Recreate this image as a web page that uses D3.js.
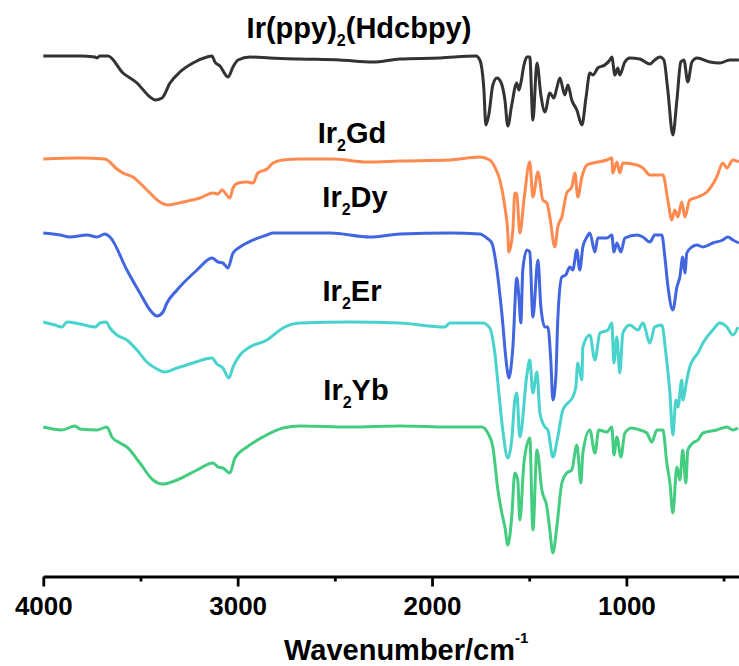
<!DOCTYPE html>
<html>
<head>
<meta charset="utf-8">
<script src="https://cdn.jsdelivr.net/npm/d3@7"></script>
<style>
  body { margin: 0; background: #fff; }
  text { font-family: "Liberation Sans", Arial, sans-serif; font-weight: bold; fill: #000; }
</style>
</head>
<body>
<div id="chart"></div>
<script>
// [wavenumber (cm-1), transmittance (a.u., stacked offset)]
const hdcbpy = [[4000,519],[3811,519],[3734,518],[3724,517],[3708,519],[3667,519],[3590,502],[3518,492],[3451,478],[3425,475],[3389,477],[3348,492],[3297,503],[3230,512],[3158,518],[3132,519],[3117,513],[3091,509],[3050,498],[3024,508],[2998,515],[2937,518],[2834,517],[2680,516],[2474,515],[2304,513],[2165,516],[1959,517],[1774,519],[1754,515],[1733,485],[1723,450],[1708,460],[1687,490],[1666,497],[1646,493],[1625,475],[1610,449],[1590,470],[1564,492],[1553,485],[1543,492],[1527,510],[1512,518],[1497,518],[1481,455],[1460,512],[1440,480],[1419,463],[1394,482],[1373,477],[1358,487],[1342,497],[1317,480],[1301,490],[1281,475],[1255,465],[1229,450],[1208,477],[1188,502],[1172,500],[1147,507],[1111,510],[1085,515],[1075,518],[1059,500],[1044,507],[1034,500],[1008,513],[982,517],[931,516],[879,511],[854,515],[828,518],[807,515],[787,485],[761,440],[740,475],[720,513],[704,515],[684,493],[663,513],[637,517],[570,513],[519,512],[468,515],[421,515]];

const gd = [[4000,416],[3811,417],[3683,416],[3621,406],[3590,402],[3539,398],[3467,385],[3400,373],[3359,370],[3281,373],[3194,377],[3127,382],[3101,381],[3081,385],[3040,377],[3024,387],[2998,392],[2952,393],[2921,392],[2896,402],[2849,406],[2818,412],[2767,415],[2680,416],[2510,416],[2335,413],[2165,414],[1908,415],[1754,418],[1703,415],[1677,408],[1651,395],[1625,368],[1610,342],[1605,323],[1584,345],[1574,382],[1564,381],[1548,342],[1527,375],[1497,413],[1481,378],[1455,403],[1430,375],[1409,372],[1394,358],[1368,328],[1353,348],[1332,358],[1307,382],[1281,388],[1265,402],[1250,378],[1229,398],[1203,410],[1172,412],[1100,415],[1075,417],[1070,402],[1049,413],[1034,402],[1018,412],[946,410],[915,407],[879,400],[812,400],[787,375],[766,355],[751,365],[735,358],[715,373],[699,358],[674,375],[632,378],[586,383],[535,398],[504,412],[483,407],[452,415],[421,413]];

const dy = [[4000,342],[3914,340],[3863,338],[3775,340],[3724,338],[3683,341],[3657,338],[3570,305],[3503,282],[3451,265],[3415,259],[3384,263],[3364,272],[3312,285],[3209,305],[3132,317],[3101,313],[3076,312],[3050,307],[3024,322],[2988,328],[2921,335],[2849,340],[2818,342],[2525,342],[2320,338],[2165,341],[1908,342],[1754,341],[1718,337],[1692,332],[1666,305],[1641,262],[1615,208],[1605,197],[1584,228],[1564,297],[1553,278],[1543,252],[1533,305],[1512,325],[1497,323],[1481,258],[1455,315],[1440,268],[1419,248],[1404,248],[1389,215],[1378,175],[1363,198],[1353,255],[1332,298],[1312,300],[1291,308],[1276,305],[1255,325],[1240,305],[1224,328],[1203,338],[1188,342],[1162,323],[1147,337],[1100,337],[1075,340],[1064,323],[1049,332],[1028,323],[1008,337],[946,340],[915,338],[879,333],[854,340],[818,340],[802,318],[787,290],[761,265],[740,288],[725,298],[710,318],[699,302],[689,322],[663,328],[637,330],[606,328],[555,332],[504,335],[478,338],[452,335],[421,332]];

const er = [[4000,253],[3940,250],[3904,248],[3878,253],[3811,251],[3734,248],[3708,252],[3677,253],[3657,247],[3621,240],[3570,235],[3518,225],[3467,213],[3415,206],[3374,203],[3312,207],[3230,212],[3132,217],[3107,211],[3076,207],[3045,197],[3024,208],[2988,220],[2937,228],[2849,235],[2767,247],[2680,252],[2423,253],[2165,252],[1934,248],[1908,252],[1739,252],[1703,247],[1677,222],[1656,182],[1636,145],[1610,117],[1590,135],[1574,175],[1564,182],[1548,138],[1512,200],[1497,215],[1481,182],[1460,203],[1445,162],[1419,148],[1404,145],[1378,118],[1353,138],[1327,165],[1301,172],[1276,178],[1260,188],[1250,212],[1229,195],[1224,228],[1188,240],[1162,215],[1136,242],[1095,245],[1075,252],[1064,212],[1049,238],[1034,202],[1018,242],[982,250],[941,245],[915,252],[879,232],[854,248],[818,250],[797,222],[776,182],[761,140],[745,175],[735,168],[715,195],[710,175],[689,195],[674,208],[658,215],[632,222],[606,232],[555,245],[519,252],[483,248],[452,240],[426,248]];

const yb = [[4000,148],[3904,145],[3837,149],[3811,146],[3724,145],[3673,148],[3647,138],[3605,132],[3570,128],[3503,112],[3436,95],[3384,91],[3312,95],[3209,105],[3127,112],[3101,108],[3076,107],[3040,102],[3014,117],[2952,128],[2870,138],[2767,147],[2680,149],[2423,148],[2165,149],[1908,148],[1743,148],[1713,142],[1687,128],[1661,85],[1641,62],[1625,48],[1610,30],[1590,58],[1574,102],[1559,95],[1548,55],[1527,112],[1497,137],[1481,45],[1460,125],[1435,85],[1409,68],[1394,45],[1378,22],[1358,48],[1332,92],[1307,102],[1281,105],[1255,130],[1234,92],[1224,122],[1188,145],[1162,122],[1142,145],[1100,143],[1075,148],[1064,120],[1049,138],[1028,118],[1008,142],[972,147],[931,145],[895,142],[869,133],[843,145],[812,145],[792,112],[776,92],[761,62],[740,108],[725,95],[710,125],[694,92],[684,125],[658,132],[632,135],[606,142],[535,145],[483,148],[452,145],[426,147]];

const majorTicks = [4000, 3000, 2000, 1000];
const minorTicks = [3500, 2500, 1500, 500];

const series = [
  {data: hdcbpy, color: "#333333", name: ["Ir(ppy)", "2", "(Hdcbpy)"], lx: 359, ly: 38},
  {data: gd, color: "#ff8a50", name: ["Ir", "2", "Gd"], lx: 352, ly: 143},
  {data: dy, color: "#4166e0", name: ["Ir", "2", "Dy"], lx: 355, ly: 207},
  {data: er, color: "#48d3cc", name: ["Ir", "2", "Er"], lx: 352, ly: 301},
  {data: yb, color: "#44cc80", name: ["Ir", "2", "Yb"], lx: 356, ly: 400}
];

let width = 739
let height = 666

let svg = d3.select("#chart")
  .append("svg")
  .attr("width", width)
  .attr("height", height)

let xScale = d3.scaleLinear()
  .domain([4000, 400])
  .range([43.3, 743])

let yScale = d3.scaleLinear()
  .domain([0, 520])
  .range([575, 55])

let line = d3.line()
  .x(d => xScale(d[0]))
  .y(d => yScale(d[1]))
  .curve(d3.curveMonotoneX)

series.forEach(function(s){
  svg.append("path")
    .datum(s.data)
    .attr("d", line)
    .attr("fill", "none")
    .attr("stroke", s.color)
    .attr("stroke-width", 3)
    .attr("stroke-linejoin", "round")

  let t = svg.append("text")
    .attr("x", s.lx)
    .attr("y", s.ly)
    .attr("text-anchor", "middle")
    .style("font-size", "29px")
  t.append("tspan").text(s.name[0])
  t.append("tspan").attr("dy", 8).style("font-size", "16px").text(s.name[1])
  t.append("tspan").attr("dy", -8).text(s.name[2])
})

// x axis
let axisY = 576.5

let xAxis = d3.axisBottom(xScale)
  .tickValues(majorTicks)
  .tickSize(10)
  .tickSizeOuter(0)
  .tickFormat(d3.format("d"))

let gx = svg.append("g")
  .attr("transform", `translate(0, ${axisY})`)
  .call(xAxis)

gx.select(".domain").attr("stroke", "#000").attr("stroke-width", 2.8)
gx.selectAll(".tick line").attr("stroke", "#000").attr("stroke-width", 2.8)
gx.selectAll(".tick text")
  .attr("y", 38)
  .attr("dy", 0)
  .style("font-size", "26px")
  .style("font-family", "'Liberation Sans', Arial, sans-serif")
  .style("font-weight", "bold")
  .attr("fill", "#000")

let minorAxis = d3.axisBottom(xScale)
  .tickValues(minorTicks)
  .tickSize(5)
  .tickSizeOuter(0)
  .tickFormat("")

let gm = svg.append("g")
  .attr("transform", `translate(0, ${axisY})`)
  .call(minorAxis)
gm.select(".domain").remove()
gm.selectAll(".tick line").attr("stroke", "#000").attr("stroke-width", 2.8)

let title = svg.append("text")
  .attr("x", 284)
  .attr("y", 660)
  .style("font-size", "29px")
title.append("tspan").text("Wavenumber/cm")
title.append("tspan").attr("dy", -17).style("font-size", "15px").text("-1")
</script>
</body>
</html>
